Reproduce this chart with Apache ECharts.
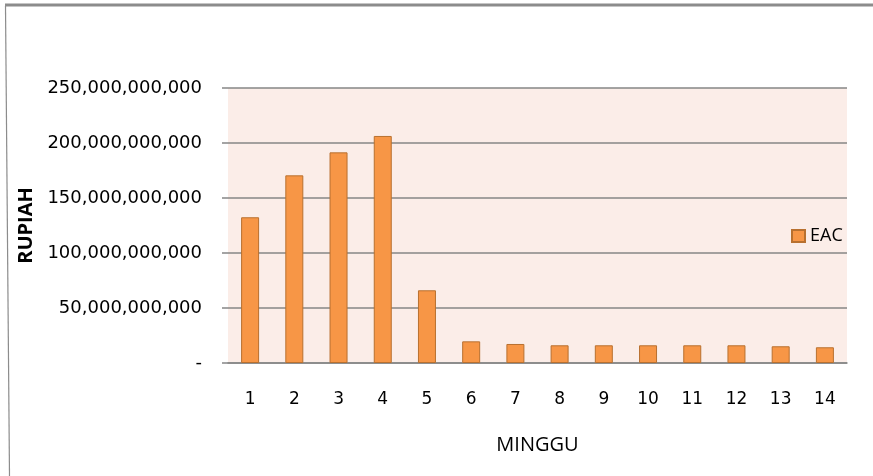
<!DOCTYPE html>
<html>
<head>
<meta charset="utf-8">
<script src="https://cdn.jsdelivr.net/npm/echarts@6/dist/echarts.min.js"></script>
<style>
  html, body { margin: 0; padding: 0; background: #fff; }
  #chart { width: 873px; height: 476px; }
</style>
</head>
<body>
<div id="chart"></div>
<script>
// Weekly EAC (Estimate at Completion) in rupiah
const weeks = ['1', '2', '3', '4', '5', '6', '7', '8', '9', '10', '11', '12', '13', '14'];
const eacValues = [
  132500000000, 170600000000, 191500000000, 206400000000, 66100000000,
  19700000000, 17300000000, 16100000000, 16100000000, 16100000000,
  16100000000, 16100000000, 15200000000, 14300000000
];
const seriesName = 'EAC';
const yAxisTitle = 'RUPIAH';
const xAxisTitle = 'MINGGU';

const font = '"Open Sans", "Noto Sans", sans-serif';
const wideFont = '"DejaVu Sans", sans-serif';

function formatRupiah(v) {
  if (v === 0) return '-';
  return v.toLocaleString('en-US');
}

const chart = echarts.init(document.getElementById('chart'), null, { renderer: 'canvas' });
chart.setOption({
  animation: false,
  backgroundColor: '#ffffff',
  grid: {
    left: 228, right: 26, top: 88, bottom: 113,
    show: true, backgroundColor: '#FBEDE8', borderWidth: 0
  },
  legend: {
    data: [{ name: seriesName, icon: 'rect' }],
    left: 786, top: 222,
    itemWidth: 13, itemHeight: 12, itemGap: 6,
    textStyle: { fontFamily: font, fontSize: 18, color: '#000' }
  },
  xAxis: {
    type: 'category',
    data: weeks,
    name: xAxisTitle,
    nameLocation: 'middle',
    nameGap: 72,
    nameTextStyle: { fontFamily: font, fontSize: 20, color: '#000' },
    axisLine: { show: true, lineStyle: { color: '#868686', width: 1.5 } },
    axisTick: { show: false },
    axisLabel: { fontFamily: wideFont, fontSize: 17, color: '#000', margin: 28 }
  },
  yAxis: {
    type: 'value',
    min: 0, max: 250000000000, interval: 50000000000,
    name: yAxisTitle,
    nameLocation: 'middle',
    nameGap: 191,
    nameTextStyle: { fontFamily: font, fontSize: 20, fontWeight: 'bold', color: '#000' },
    axisLine: { show: false },
    axisTick: { show: true, length: 6, lineStyle: { color: '#868686', width: 1.5 } },
    splitLine: { show: true, lineStyle: { color: '#868686', width: 1.5 } },
    axisLabel: { fontFamily: wideFont, fontSize: 18, color: '#000', margin: 26, formatter: formatRupiah }
  },
  series: [{
    name: seriesName,
    type: 'bar',
    data: eacValues,
    barWidth: 18,
    itemStyle: { color: '#F79646', borderColor: '#B8702F', borderWidth: 1 }
  }],
  graphic: [
    { type: 'line', shape: { x1: 5, y1: 5, x2: 873, y2: 5 }, style: { stroke: '#8c8c8c', lineWidth: 3 } },
    { type: 'line', shape: { x1: 5.5, y1: 6, x2: 9.5, y2: 476 }, style: { stroke: '#8c8c8c', lineWidth: 1.2 } }
  ]
});
</script>
</body>
</html>
